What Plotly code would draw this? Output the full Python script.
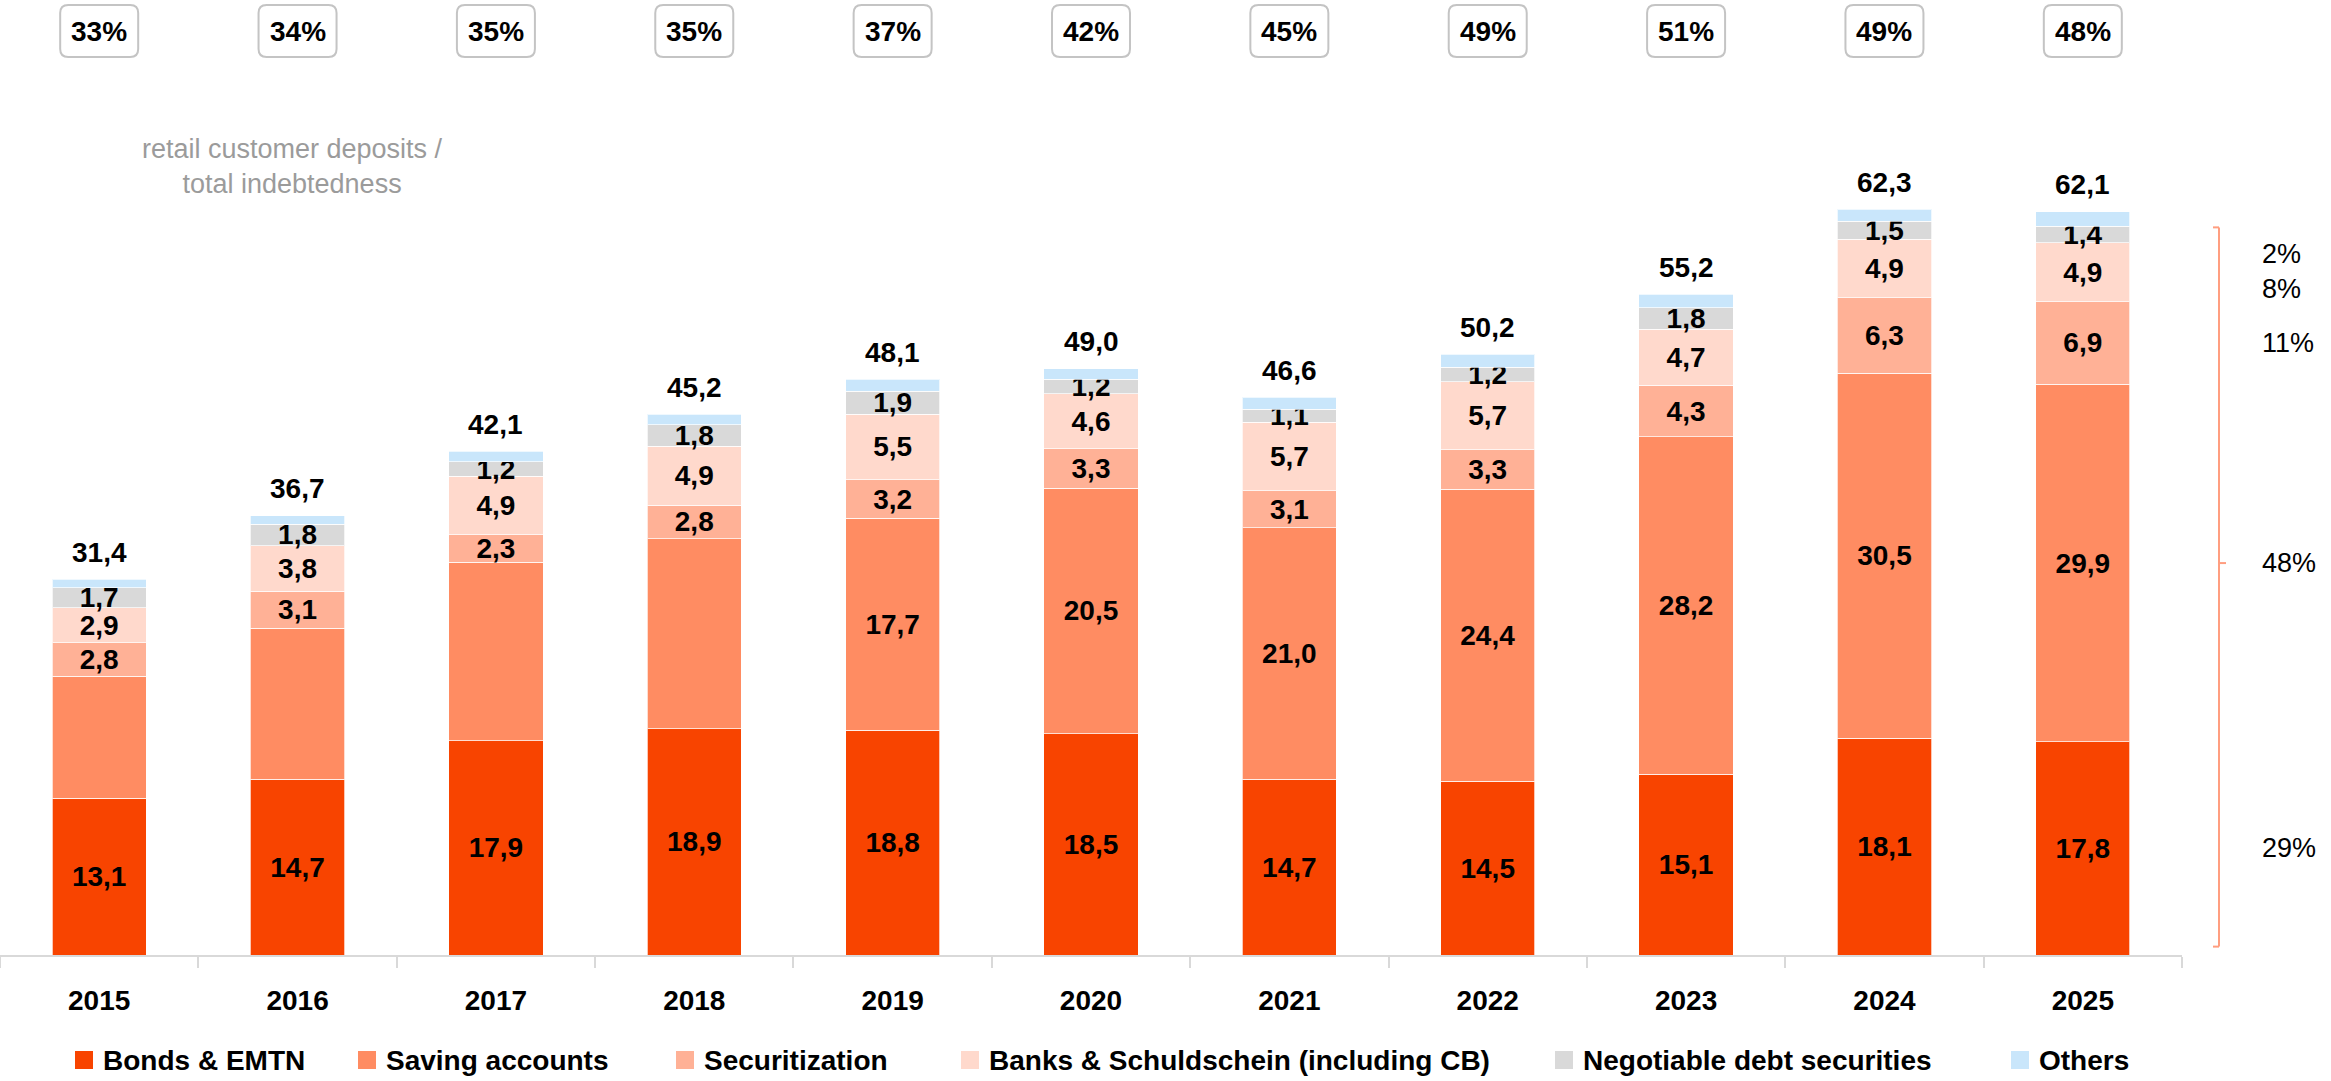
import plotly.graph_objects as go

# ---------------- data ----------------
years = ['2015', '2016', '2017', '2018', '2019', '2020', '2021', '2022', '2023', '2024', '2025']
bonds = [13.1, 14.7, 17.9, 18.9, 18.8, 18.5, 14.7, 14.5, 15.1, 18.1, 17.8]
saving = [10.2, 12.6, 14.9, 15.9, 17.7, 20.5, 21.0, 24.4, 28.2, 30.5, 29.9]
securitization = [2.8, 3.1, 2.3, 2.8, 3.2, 3.3, 3.1, 3.3, 4.3, 6.3, 6.9]
banks = [2.9, 3.8, 4.9, 4.9, 5.5, 4.6, 5.7, 5.7, 4.7, 4.9, 4.9]
negotiable = [1.7, 1.8, 1.2, 1.8, 1.9, 1.2, 1.1, 1.2, 1.8, 1.5, 1.4]
others = [0.7, 0.7, 0.9, 0.9, 1.0, 0.9, 1.0, 1.1, 1.1, 1.0, 1.2]
totals = [31.4, 36.7, 42.1, 45.2, 48.1, 49.0, 46.6, 50.2, 55.2, 62.3, 62.1]
deposit_ratio = [33, 34, 35, 35, 37, 42, 45, 49, 51, 49, 48]
saving_labelled = [False, False, False, False, True, True, True, True, True, True, True]
share_2025_labels = ['29%', '48%', '11%', '8%', '2%']

series_names = ['Bonds & EMTN', 'Saving accounts', 'Securitization',
                'Banks & Schuldschein (including CB)', 'Negotiable debt securities', 'Others']
series_values = [bonds, saving, securitization, banks, negotiable, others]
series_colors = ['#F84400', '#FF8C62', '#FFB196', '#FFD9CC', '#D9D9D9', '#C9E6FB']

FONT = 'Liberation Sans, Arial, Helvetica, sans-serif'


def fmt(v):
    return f'{v:.1f}'.replace('.', ',')


# ---------------- figure ----------------
W, H = 2331, 1081
ML, MR, MT, MB = 0, 149, 0, 126
PW, PH = W - ML - MR, H - MT - MB
YMAX = 79.8

fig = go.Figure()
for k, (name, vals, col) in enumerate(zip(series_names, series_values, series_colors)):
    if k == 5:
        texts = ['' for _ in vals]
    elif k == 1:
        texts = [fmt(v) if show else '' for v, show in zip(vals, saving_labelled)]
    else:
        texts = [fmt(v) for v in vals]
    fig.add_trace(go.Bar(
        x=years, y=vals, name=name,
        marker=dict(color=col, line=dict(color='rgba(255,255,255,0.7)', width=1)),
        text=texts, textposition='inside', insidetextanchor='middle', textangle=0,
        textfont=dict(family=FONT, size=28, color='black', weight='bold'),
        hoverinfo='skip', showlegend=False,
    ))

annotations = []
shapes = []


def py(px):
    return (PH - (px - MT)) / PH


def pxx(px):
    return (px - ML) / PW


# totals above bars
for i, t in enumerate(totals):
    annotations.append(dict(x=i, y=t, xref='x', yref='y', text=f'<b>{fmt(t)}</b>', showarrow=False,
                            xanchor='center', yanchor='middle', yshift=27,
                            font=dict(family=FONT, size=28, color='black')))

# top ratio boxes
box_path = ('M -31,-26 L 31,-26 Q 39,-26 39,-18 L 39,18 Q 39,26 31,26 '
            'L -31,26 Q -39,26 -39,18 L -39,-18 Q -39,-26 -31,-26 Z')
for i, r in enumerate(deposit_ratio):
    shapes.append(dict(type='path', xref='x', yref='paper', xsizemode='pixel', ysizemode='pixel',
                       xanchor=i, yanchor=py(31), path=box_path, layer='below',
                       line=dict(color='#C4C4C4', width=2), fillcolor='white'))
    annotations.append(dict(x=i, y=py(31), xref='x', yref='paper', text=f'<b>{r}%</b>', showarrow=False,
                            font=dict(family=FONT, size=28, color='black'),
                            xanchor='center', yanchor='middle'))

annotations.append(dict(x=pxx(292), y=py(167), xref='paper', yref='paper',
                        text='retail customer deposits /<br>total indebtedness', showarrow=False,
                        xanchor='center', yanchor='middle',
                        font=dict(family=FONT, size=27, color='#9B9B9B'), align='center'))

# right side bracket + 2025 shares
mids = []
cum = 0
for vals in series_values[:5]:
    v = vals[-1]
    mids.append(cum + v / 2)
    cum += v
shifts = [0, 0, 0, -17, -19]
xl = pxx(2260)
for lab, m, s in zip(share_2025_labels, mids, shifts):
    annotations.append(dict(x=xl, y=m, xref='paper', yref='y', text=lab, showarrow=False, xanchor='left',
                            yanchor='middle', yshift=s, font=dict(family=FONT, size=27, color='black')))

bx = pxx(2219)
bcol = '#FF9E80'
top_b = cum - 0.1
bot_b = 0.7
shapes += [
    dict(type='line', xref='paper', yref='y', x0=bx, x1=bx, y0=bot_b, y1=top_b, line=dict(color=bcol, width=2)),
    dict(type='line', xref='paper', yref='y', x0=pxx(2213), x1=bx, y0=top_b, y1=top_b, line=dict(color=bcol, width=2)),
    dict(type='line', xref='paper', yref='y', x0=pxx(2213), x1=bx, y0=bot_b, y1=bot_b, line=dict(color=bcol, width=2)),
    dict(type='line', xref='paper', yref='y', x0=bx, x1=pxx(2226), y0=mids[1], y1=mids[1], line=dict(color=bcol, width=2)),
]

# custom legend
legend_x = [75, 358, 676, 961, 1555, 2011]
for name, col, lx in zip(series_names, series_colors, legend_x):
    shapes.append(dict(type='rect', xref='paper', yref='paper', x0=pxx(lx), x1=pxx(lx + 18),
                       y0=py(1069), y1=py(1051), fillcolor=col, line=dict(width=0)))
    annotations.append(dict(x=pxx(lx + 26), y=py(1060), xref='paper', yref='paper', text=f'<b>{name}</b>',
                            showarrow=False, xanchor='left', yanchor='middle',
                            font=dict(family=FONT, size=28, color='black')))

fig.update_layout(
    width=W, height=H, barmode='stack', bargap=0.525,
    margin=dict(l=ML, r=MR, t=MT, b=MB),
    plot_bgcolor='white', paper_bgcolor='white',
    uniformtext=dict(minsize=28, mode='show'),
    font=dict(family=FONT),
    xaxis=dict(type='category', range=[-0.5, 10.5], showline=True, linecolor='#D9D9D9', linewidth=2,
               ticks='outside', tickson='boundaries', ticklen=11, tickcolor='#D9D9D9', tickwidth=2,
               tickfont=dict(family=FONT, size=28, color='black', weight='bold'),
               ticklabelstandoff=19, showgrid=False),
    yaxis=dict(range=[0, YMAX], visible=False, showgrid=False, zeroline=False),
    annotations=annotations, shapes=shapes, showlegend=False,
)

fig.write_html('out.html', config={'displayModeBar': False},
               post_script="document.body.style.margin='0';document.body.style.overflow='hidden';")
